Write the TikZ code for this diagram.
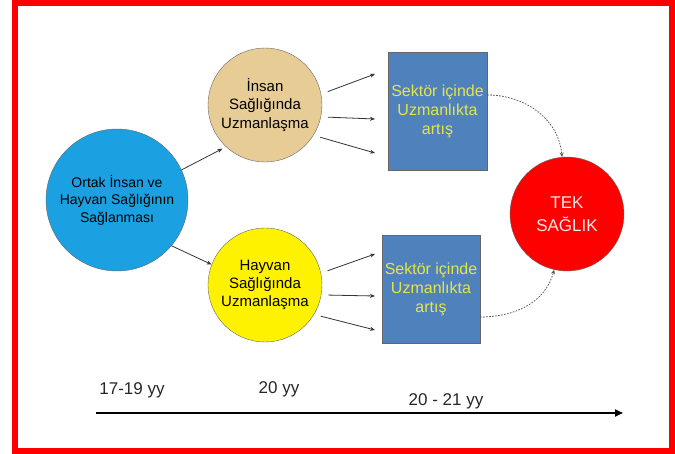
\documentclass[tikz,border=0pt]{standalone}
\usepackage{fontspec}
\setmainfont{Liberation Sans}
\usepackage{tikz}
\usetikzlibrary{arrows.meta}

\definecolor{cblue}{RGB}{27,160,226}
\definecolor{ctan}{RGB}{232,204,150}
\definecolor{cbox}{RGB}{79,129,189}
\definecolor{cboxtxt}{RGB}{228,230,70}
\definecolor{cpink}{RGB}{250,232,232}

\begin{document}
\begin{tikzpicture}[x=1pt,y=-1pt,
    circ/.style={circle,draw=black!60,thin,inner sep=0pt,align=center},
    sbox/.style={rectangle,draw=black!60,fill=cbox,inner sep=0pt,align=center,
      text=cboxtxt,font=\fontsize{16}{19}\selectfont},
    arr/.style={draw=black!80,line width=0.8pt,-{Stealth[length=5pt,width=4pt]}},
    dotarr/.style={draw=black!65,line width=0.8pt,dash pattern=on 1.6pt off 1.4pt,
      -{Stealth[length=4.5pt,width=4pt]}},
    yylabel/.style={font=\fontsize{17}{20}\selectfont,text=black!85}]
  \useasboundingbox (0,0) rectangle (675,454);
  \draw[red,line width=6pt] (15,3) rectangle (672,451);

  \node[circ,fill=cblue,minimum size=142pt,font=\fontsize{14}{17.5}\selectfont]
    (ortak) at (117,200) {Ortak İnsan ve\\Hayvan Sağlığının\\Sağlanması};
  \node[circ,fill=ctan,minimum size=114pt,font=\fontsize{15}{18.5}\selectfont]
    (insan) at (265,105) {İnsan\\Sağlığında\\Uzmanlaşma};
  \node[circ,fill=yellow,minimum size=114pt,font=\fontsize{15}{18}\selectfont]
    (hayvan) at (265,285) {Hayvan\\Sağlığında\\Uzmanlaşma};
  \node[sbox,minimum width=99pt,minimum height=118pt]
    (sektor1) at (437.5,111) {Sektör içinde\\Uzmanlıkta\\artış};
  \node[sbox,minimum width=98pt,minimum height=108pt]
    (sektor2) at (431,289) {Sektör içinde\\Uzmanlıkta\\artış};
  \node[circ,fill=red,minimum size=114pt,text=cpink,font=\fontsize{17}{23}\selectfont]
    (tek) at (567,214) {TEK\\SAĞLIK};

  % ortak -> uzmanlasma
  \draw[arr] (ortak.25) -- (insan.227) [shorten >=4pt];
  \draw[arr] (ortak.-40) -- (hayvan.159);

  % uzmanlasma -> sektor
  \foreach \a/\y [count=\i] in {11/74, -12/119, -32/153} {
    \coordinate (ti\i) at (375,\y);
    \draw[arr,shorten <=7pt] (insan.\a) -- (ti\i);
  }
  \foreach \a/\y [count=\i] in {12/254, -10/296, -31/330} {
    \coordinate (hi\i) at (375,\y);
    \draw[arr,shorten <=7pt] (hayvan.\a) -- (hi\i);
  }

  % sektor -> tek saglik
  \draw[dotarr] ([yshift=16pt]sektor1.east) to[out=0,in=95] (tek.95);
  \draw[dotarr] ([yshift=-28pt]sektor2.east) to[out=0,in=255] (tek.257);

  % zaman ekseni
  \coordinate (t0) at (96,413);
  \coordinate (t1) at (623,413);
  \draw[line width=2pt,-{Triangle[length=8pt,width=7pt]}] (t0) -- (t1);
  \node[yylabel] (y1) at (132,390) {17-19 yy};
  \node[yylabel] (y2) at (279,389) {20 yy};
  \node[yylabel] (y3) at (446,401) {20 - 21 yy};
\end{tikzpicture}
\end{document}
